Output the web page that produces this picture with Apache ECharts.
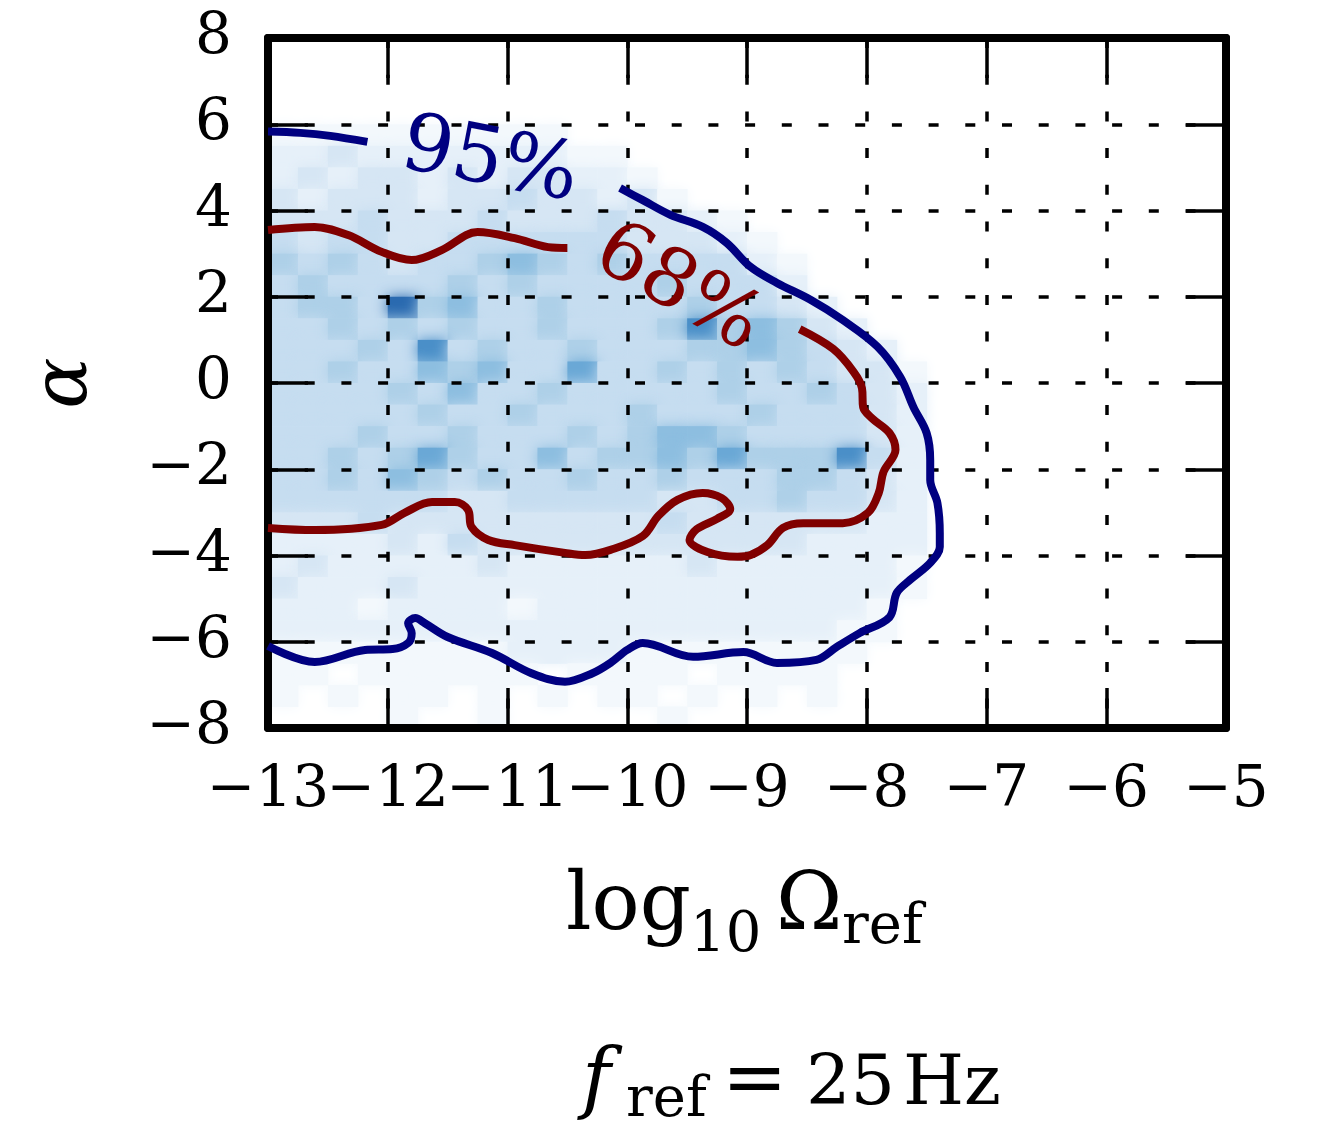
<!DOCTYPE html>
<html>
<head>
<meta charset="utf-8">
<title>alpha vs log10 Omega_ref</title>
<script src="https://cdn.jsdelivr.net/npm/echarts@6/dist/echarts.min.js"></script>
<style>
  html, body { margin: 0; padding: 0; background: #fff; }
  #chart { width: 1328px; height: 1128px; }
</style>
</head>
<body>
<div id="chart"></div>
<script>
// axis ticks
const xTicks = [-13, -12, -11, -10, -9, -8, -7, -6, -5];
const yTicks = [-8, -6, -4, -2, 0, 2, 4, 6, 8];

// 95% contour (blue), split where the "95%" label sits
const contour95Left = [[-13.00, 5.83], [-12.73, 5.80], [-12.48, 5.73], [-12.17, 5.59]];
const contour95Right = [
  [-10.06, 4.52], [-9.87, 4.24], [-9.64, 3.90], [-9.37, 3.62], [-9.17, 3.25],
  [-8.97, 2.69], [-8.75, 2.32], [-8.47, 1.93], [-8.20, 1.46], [-7.91, 0.84],
  [-7.72, 0.14], [-7.61, -0.56], [-7.50, -1.16], [-7.47, -1.79], [-7.47, -2.25],
  [-7.41, -2.78], [-7.39, -3.48], [-7.39, -3.80], [-7.47, -4.17], [-7.64, -4.57],
  [-7.75, -4.87], [-7.81, -5.43], [-8.06, -5.80], [-8.25, -6.12], [-8.42, -6.42],
  [-8.75, -6.49], [-9.03, -6.24], [-9.45, -6.35], [-9.87, -6.03], [-10.00, -6.19],
  [-10.14, -6.49], [-10.29, -6.73], [-10.52, -6.93], [-10.80, -6.73], [-11.13, -6.26],
  [-11.50, -5.89], [-11.69, -5.57], [-11.77, -5.45], [-11.83, -5.57], [-11.80, -5.80],
  [-11.83, -6.03], [-11.96, -6.17], [-12.19, -6.19], [-12.61, -6.47], [-13.00, -6.10]
];

// 68% contour (red), split where the "68%" label sits
const contour68Left = [
  [-13.00, 3.55], [-12.61, 3.62], [-12.33, 3.43], [-12.05, 3.04], [-11.80, 2.85],
  [-11.55, 3.08], [-11.25, 3.50], [-10.94, 3.36], [-10.66, 3.15], [-10.50, 3.13]
];
const contour68Right = [
  [-8.56, 1.25], [-8.28, 0.79], [-8.11, 0.26], [-8.04, -0.12], [-8.03, -0.56],
  [-7.96, -0.81], [-7.81, -1.16], [-7.76, -1.55], [-7.86, -2.06], [-7.90, -2.55],
  [-7.99, -3.01], [-8.20, -3.25], [-8.53, -3.25], [-8.70, -3.36], [-8.83, -3.76],
  [-8.97, -3.99], [-9.08, -4.03], [-9.33, -3.92], [-9.48, -3.64], [-9.42, -3.39],
  [-9.25, -3.15], [-9.14, -2.92], [-9.21, -2.67], [-9.37, -2.55], [-9.58, -2.71],
  [-9.74, -3.08], [-9.87, -3.55], [-10.14, -3.87], [-10.35, -3.99], [-10.52, -3.94],
  [-10.94, -3.76], [-11.16, -3.64], [-11.30, -3.34], [-11.33, -2.94], [-11.44, -2.76],
  [-11.63, -2.76], [-11.86, -3.01], [-12.05, -3.29], [-12.61, -3.41], [-13.00, -3.36]
];

// contour label anchors
const label95 = [-11.15, 5.10];
const label68 = [-9.58, 2.16];

// posterior density: one string per row, alpha = 6 down to -8
// (0.5 per row), columns from log10 Omega = -13 (0.25 per column); 0 = empty, 9 = darkest
const densityRows = [
  '11111111110000000000000',
  '22322222221100000000000',
  '23233232332210000000000',
  '32333233433231000000000',
  '33343334333433210000000',
  '43443344444433321000000',
  '54543445654544442100000',
  '45444454544445444200000',
  '45549564454444544320000',
  '44545454454445856532000',
  '44454845445444556543200',
  '44544656447445454543310',
  '44445464454444454454320',
  '44444544544454445444320',
  '44454454445456654444320',
  '44545754464556575558420',
  '44546545445445444554320',
  '44444433444443344544320',
  '33343333333334333333220',
  '22223243333333333322220',
  '23222223222222322222210',
  '32223222222222222222210',
  '22212222122222222222100',
  '22222222222222222221100',
  '11111111222211111111000',
  '11011111101111011110000',
  '10101101010110101010000',
  '00001001000001000000000'
];
const X0 = -13, Y0 = 6, DX = 0.25, DY = 0.5;
const blues = ['#ffffff', '#f3f8fc', '#e6f0f9', '#d6e6f4', '#c6ddf0',
               '#aed0e8', '#8dbee0', '#6aa8d6', '#4a8fc8', '#2a6ab0'];

const densityData = [];
densityRows.forEach((row, r) => {
  for (let c = 0; c < row.length; c++) {
    const lv = +row[c];
    if (lv > 0) densityData.push([X0 + c * DX, Y0 - (r + 1) * DY, lv]);
  }
});

const FONT = 'DejaVu Serif';
const NAVY = '#000080';
const MAROON = '#800000';
const fmt = v => (v < 0 ? '\u2212' + Math.abs(v) : String(v));
// the x labels overlap like in the original, so odd and even ones go on two axes
const fmtOdd = v => (Math.abs(v) % 2 === 1 ? fmt(v) : '');
const fmtEven = v => (Math.abs(v) % 2 === 0 ? fmt(v) : '');

const dash = { color: '#000', width: 3.5, type: [10, 26.7] };
const tick = { show: true, inside: true, length: 40, lineStyle: { color: '#000', width: 3.5 } };
const frame = { show: true, onZero: false, lineStyle: { color: '#000', width: 8 } };
const tickLabel = {
  margin: 34, formatter: fmt, fontFamily: FONT, fontSize: 58, color: '#000',
  showMinLabel: true, showMaxLabel: true, hideOverlap: false
};
const xRange = { type: 'value', min: xTicks[0], max: xTicks[xTicks.length - 1], interval: 1 };
const yRange = { type: 'value', min: yTicks[0], max: yTicks[yTicks.length - 1], interval: 2 };

const chart = echarts.init(document.getElementById('chart'));

const contourLine = (data, color) => ({
  type: 'line',
  data: data,
  smooth: 0.35,
  showSymbol: false,
  silent: true,
  clip: true,
  z: 3,
  lineStyle: { color: color, width: 8, opacity: 1 }
});

const contourLabel = (pos, text, color, rotate) => ({
  type: 'scatter',
  data: [pos],
  symbolSize: 0,
  silent: true,
  z: 4,
  itemStyle: { opacity: 1 },
  label: {
    show: true,
    position: 'inside',
    formatter: text,
    rotate: rotate,
    color: color,
    opacity: 1,
    fontFamily: FONT,
    fontSize: 80
  }
});

const texts = [
  // x axis name: log10 Omega_ref
  { text: 'log', x: 566, y: 908, size: 80 },
  { text: '10', x: 690, y: 936, size: 56 },
  { text: '\u03a9', x: 776, y: 908, size: 80 },
  { text: 'ref', x: 842, y: 928, size: 56 },
  // caption: f_ref = 25 Hz
  { text: 'f', x: 582, y: 1084, size: 78, italic: true },
  { text: 'ref', x: 626, y: 1101, size: 56 },
  { text: '=', x: 722, y: 1084, size: 78 },
  { text: '25', x: 806, y: 1086, size: 70 },
  { text: 'Hz', x: 903, y: 1086, size: 70 }
];

const option = {
  animation: false,
  backgroundColor: '#fff',
  grid: { left: 268, right: 102, top: 38, bottom: 400, outerBoundsMode: 'none' },
  xAxis: [
    Object.assign({}, xRange, {
      z: 2, axisLine: frame, axisTick: tick,
      axisLabel: Object.assign({}, tickLabel, { formatter: fmtOdd }),
      splitLine: { show: true, lineStyle: dash }
    }),
    Object.assign({}, xRange, {
      position: 'top', z: 2,
      axisLine: frame, axisTick: tick, axisLabel: { show: false }, splitLine: { show: false }
    }),
    Object.assign({}, xRange, {
      position: 'bottom', z: 2,
      axisLine: { show: false }, axisTick: { show: false }, splitLine: { show: false },
      axisLabel: Object.assign({}, tickLabel, { formatter: fmtEven })
    })
  ],
  yAxis: [
    Object.assign({}, yRange, {
      z: 2,
      name: '\u03b1', nameLocation: 'middle', nameRotate: 90, nameGap: 164,
      nameTextStyle: { fontFamily: FONT, fontStyle: 'italic', fontSize: 76, color: '#000' },
      axisLine: frame, axisTick: tick, axisLabel: Object.assign({}, tickLabel, { margin: 36 }),
      splitLine: { show: true, lineStyle: dash }
    }),
    Object.assign({}, yRange, {
      position: 'right', z: 2,
      axisLine: frame, axisTick: tick, axisLabel: { show: false }, splitLine: { show: false }
    })
  ],
  series: [
    {
      type: 'custom',
      coordinateSystem: 'cartesian2d',
      data: densityData,
      encode: { x: 0, y: 1 },
      silent: true,
      clip: true,
      z: 1,
      renderItem: (params, api) => {
        const x = api.value(0), y = api.value(1), lv = api.value(2);
        const p0 = api.coord([x, y + DY]);
        const p1 = api.coord([x + DX, y]);
        return {
          type: 'rect',
          shape: { x: p0[0], y: p0[1], width: p1[0] - p0[0] + 0.5, height: p1[1] - p0[1] + 0.5 },
          style: { fill: blues[lv], shadowBlur: 14, shadowColor: blues[lv] }
        };
      }
    },
    contourLine(contour95Left, NAVY),
    contourLine(contour95Right, NAVY),
    contourLine(contour68Left, MAROON),
    contourLine(contour68Right, MAROON),
    contourLabel(label95, '95%', NAVY, -11),
    contourLabel(label68, '68%', MAROON, -30)
  ],
  graphic: texts.map(t => ({
    type: 'text',
    x: t.x,
    y: t.y,
    silent: true,
    style: {
      text: t.text,
      fill: '#000',
      font: (t.italic ? 'italic ' : '') + t.size + 'px "' + FONT + '"',
      align: 'left',
      verticalAlign: 'middle'
    }
  }))
};

chart.setOption(option);
</script>
</body>
</html>
